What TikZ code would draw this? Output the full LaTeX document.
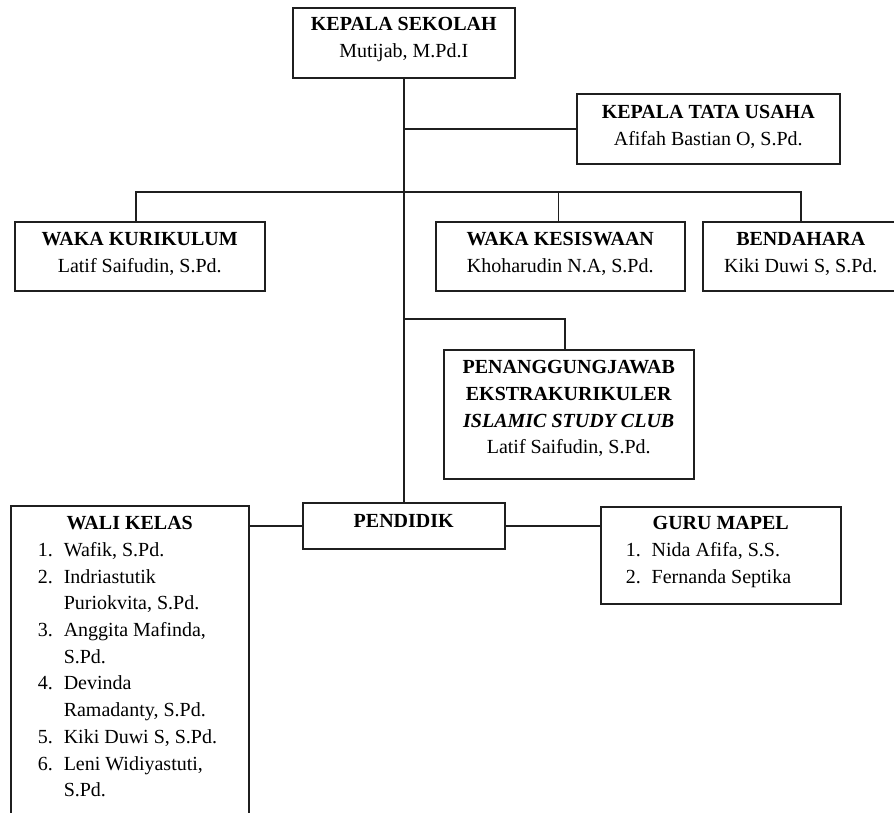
\documentclass[tikz,border=0pt]{standalone}
\usepackage{fontspec}
\setmainfont{Liberation Serif}
\newcommand{\bxt}[4]{\parbox[t][#2][t]{#1}{\fontsize{20}{26.7}\selectfont\centering\rule{0pt}{#3}#4\par}}
\newcommand{\itm}[2]{\hspace*{#1}\makebox[26pt][l]{#2}}
\tikzset{
  orgbox/.style={draw=black!88, line width=1.5pt, inner sep=0pt, anchor=north west},
  link/.style={draw=black!88, line width=1.5pt}
}
\begin{document}
\begin{tikzpicture}[x=1pt,y=-1pt]
\useasboundingbox (0,0) rectangle (894,812);
\clip (0,0) rectangle (894,812);
\fill[white] (0,0) rectangle (894,812);

\node[orgbox] (ks) at (292,7) {\bxt{222pt}{70pt}{23pt}{\textbf{KEPALA SEKOLAH}\\Mutijab, M.Pd.I}};
\node[orgbox] (ktu) at (576,93) {\bxt{263pt}{70pt}{25pt}{\textbf{KEPALA TATA USAHA}\\Afifah Bastian O, S.Pd.}};
\node[orgbox] (wk) at (14,221) {\bxt{250pt}{69pt}{24pt}{\textbf{WAKA KURIKULUM}\\Latif Saifudin, S.Pd.}};
\node[orgbox] (wkes) at (435,221) {\bxt{249pt}{69pt}{24pt}{\textbf{WAKA KESISWAAN}\\Khoharudin N.A, S.Pd.}};
\node[orgbox] (bend) at (702,221) {\bxt{196pt}{69pt}{24pt}{\textbf{BENDAHARA}\\Kiki Duwi S, S.Pd.}};
\node[orgbox] (eks) at (443,349) {\bxt{250pt}{129pt}{24pt}{\textbf{PENANGGUNGJAWAB}\\\textbf{EKSTRAKURIKULER}\\\textbf{\textit{ISLAMIC STUDY CLUB}}\\Latif Saifudin, S.Pd.}};
\node[orgbox] (pend) at (302,502) {\bxt{202pt}{46pt}{25pt}{\textbf{PENDIDIK}}};
\node[orgbox] (wali) at (10,505) {\bxt{238pt}{330pt}{24pt}{\textbf{WALI KELAS}\par\raggedright
\itm{27pt}{1.}Wafik, S.Pd.\\
\itm{27pt}{2.}Indriastutik\\
\hspace*{53pt}Puriokvita, S.Pd.\\
\itm{27pt}{3.}Anggita Mafinda,\\
\hspace*{53pt}S.Pd.\\
\itm{27pt}{4.}Devinda\\
\hspace*{53pt}Ramadanty, S.Pd.\\
\itm{27pt}{5.}Kiki Duwi S, S.Pd.\\
\itm{27pt}{6.}Leni Widiyastuti,\\
\hspace*{53pt}S.Pd.}};
\node[orgbox] (guru) at (600,506) {\bxt{240pt}{97pt}{23pt}{\textbf{GURU MAPEL}\par\raggedright
\itm{25pt}{1.}Nida Afifa, S.S.\\
\itm{25pt}{2.}Fernanda Septika}};

\coordinate (barc) at (403,192);
\coordinate (ekc) at (403,319);

\draw[link] (ks.south) -- (pend.north);
\draw[link] (ktu.west) -- (ktu.west -| ks.south);
\draw[link] ([xshift=-4pt]wk.north) |- (barc) -| (bend.north);
\draw[link] ([xshift=-2pt]wkes.north) -- ([xshift=-2pt]wkes.north |- barc);
\draw[link] (ekc) -| ([xshift=-4pt]eks.north);
\draw[link] (pend.west) -- (pend.west -| wali.east);
\draw[link] (pend.east) -- (pend.east -| guru.west);
\end{tikzpicture}
\end{document}
